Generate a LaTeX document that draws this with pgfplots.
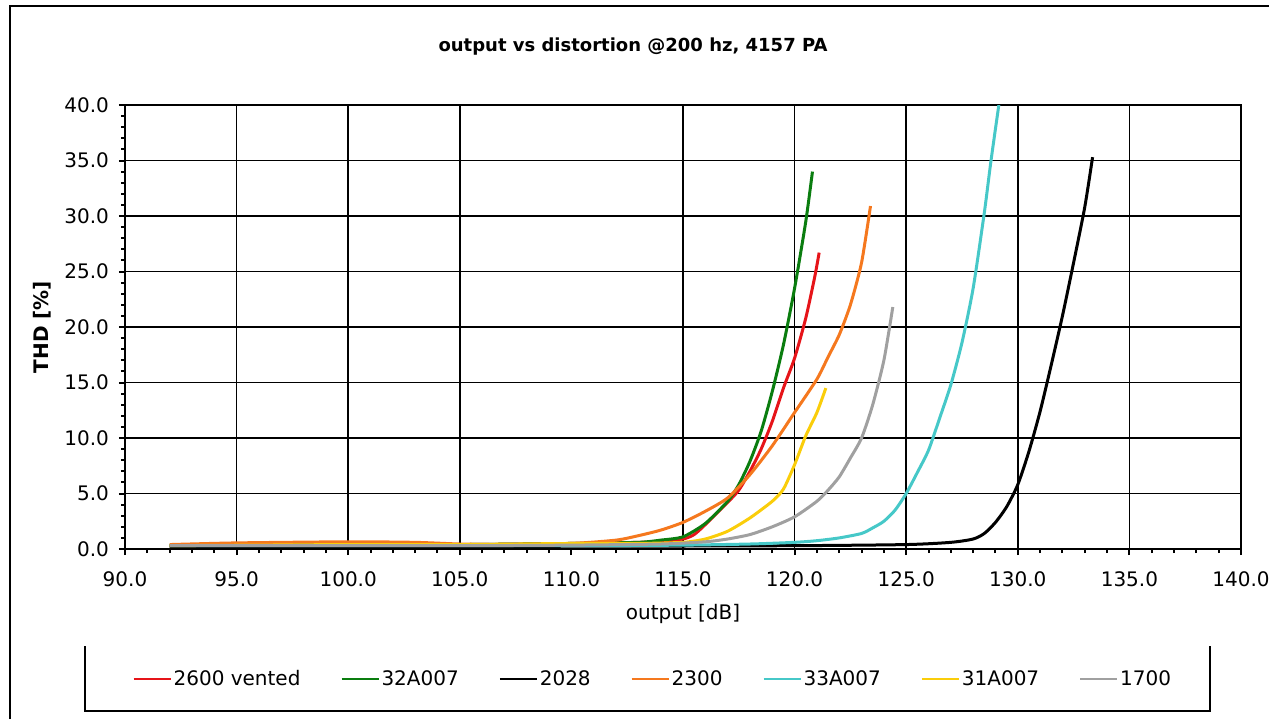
\documentclass[border=0pt]{standalone}
\usepackage{fontspec}
\setmainfont{DejaVu Sans}
\usepackage{pgfplots}
\pgfplotsset{compat=1.18}
\definecolor{cRed}{RGB}{230,20,25}
\definecolor{cGreen}{RGB}{10,125,15}
\definecolor{cOrange}{RGB}{245,120,30}
\definecolor{cCyan}{RGB}{70,200,200}
\definecolor{cYellow}{RGB}{250,205,10}
\definecolor{cGray}{RGB}{160,160,160}
\begin{document}
\begin{tikzpicture}
\useasboundingbox (0,0) rectangle (634.5pt,359.5pt);
\draw[line width=1.2pt] (5pt,0pt) -- (5pt,356.5pt) -- (634.5pt,356.5pt);
\draw[line width=0.9pt] (42.5pt,36.5pt) -- (42.5pt,4pt) -- (605pt,4pt) -- (605pt,36.5pt);
\node[font=\bfseries\fontsize{9}{11}\selectfont] at (316.5pt,336pt) {output vs distortion @200 hz, 4157 PA};
\begin{axis}[
  at={(62.5pt,85pt)}, anchor=south west,
  width=558pt, height=222pt, scale only axis,
  xmin=90, xmax=140, ymin=0, ymax=40,
  xtick={90,95,100,105,115,120,125,130,135,140},
  extra x ticks={110}, extra x tick style={grid=none},
  minor xtick={91,92,93,94,96,97,98,99,101,102,103,104,106,107,108,109,111,112,113,114,116,117,118,119,121,122,123,124,126,127,128,129,131,132,133,134,136,137,138,139},
  ytick={0,5,...,40}, minor y tick num=4,
  xmajorgrids, ymajorgrids,
  major grid style={black, line width=0.75pt},
  axis line style={black, line width=1.2pt},
  tick pos=left, tick align=outside,
  major tick length=3pt, minor tick length=2pt,
  every tick/.style={black, line width=1pt},
  /pgf/number format/.cd, fixed, fixed zerofill, precision=1, assume math mode=true,
  /pgfplots/.cd,
  tick label style={font=\fontsize{10}{12}\selectfont},
  xticklabel style={yshift=-5pt},
  yticklabel style={xshift=-1.5pt},
  xlabel={output [dB]}, ylabel={\bfseries THD [\%]},
  label style={font=\fontsize{10}{12}\selectfont},
  xlabel style={yshift=4.5pt},
  ylabel style={yshift=0pt},
  legend columns=7,
  legend style={at={(0.473,-0.293)}, anchor=center, draw=none, fill=none,
    font=\fontsize{10}{12}\selectfont,
    nodes={inner xsep=1pt},
    /tikz/every even column/.append style={column sep=19pt},
    inner sep=0pt},
  legend image code/.code={\draw[#1, line width=1pt] (0pt,0pt) -- (18.5pt,0pt);},
  every axis plot/.append style={line width=1.5pt, smooth, tension=0.4},
  clip=true,
]
\addplot[cRed] coordinates {(92,0.3)(100,0.4)(105,0.4)(110,0.5)(113,0.6)(114,0.7)(115,0.9)(115.5,1.3)(116,2.2)(116.5,3.2)(117,4.2)(117.5,5.3)(118,7)(118.5,9)(119,11.5)(119.5,14.5)(120,17.2)(120.5,20.8)(120.9,24.5)(121.1,26.7)};
\addlegendentry{2600 vented}
\addplot[cGreen] coordinates {(92,0.3)(100,0.4)(105,0.4)(110,0.5)(113,0.6)(114,0.8)(115,1.1)(116,2.3)(117,4.3)(117.5,5.8)(118,7.9)(118.5,10.6)(119,14.2)(119.5,18.4)(120,23.5)(120.5,29.5)(120.8,34.0)};
\addlegendentry{32A007}
\addplot[black] coordinates {(92,0.2)(110,0.25)(120,0.3)(125,0.4)(127,0.6)(128,0.9)(128.5,1.4)(129,2.4)(129.5,3.8)(130,5.8)(130.5,8.8)(131,12.4)(131.5,16.6)(132,21)(132.5,25.8)(133,30.8)(133.35,35.3)};
\addlegendentry{2028}
\addplot[cOrange] coordinates {(92,0.4)(95,0.55)(100,0.65)(103,0.6)(105,0.45)(107,0.4)(110,0.5)(112,0.8)(113,1.2)(114,1.7)(115,2.4)(116,3.4)(117,4.6)(118,6.7)(119,9.3)(120,12.3)(121,15.3)(121.5,17.3)(122,19.3)(122.5,22)(123,25.8)(123.4,30.9)};
\addlegendentry{2300}
\addplot[cCyan] coordinates {(92,0.3)(110,0.3)(115,0.35)(118,0.45)(120,0.6)(121,0.75)(122,1.0)(123,1.4)(123.5,1.9)(124,2.5)(124.5,3.5)(125,5)(125.5,6.9)(126,8.9)(126.5,11.8)(127,14.8)(127.5,18.6)(128,23.5)(128.5,30.3)(128.8,35)(129.15,40)};
\addlegendentry{33A007}
\addplot[cYellow] coordinates {(92,0.3)(100,0.4)(105,0.4)(110,0.5)(113,0.5)(115,0.6)(116,0.9)(117,1.6)(118,2.8)(119,4.3)(119.5,5.4)(120,7.6)(120.5,10.2)(121,12.3)(121.4,14.5)};
\addlegendentry{31A007}
\addplot[cGray] coordinates {(92,0.3)(105,0.3)(110,0.35)(114,0.45)(116,0.65)(117,0.9)(118,1.3)(119,2)(120,2.9)(121,4.3)(121.5,5.3)(122,6.5)(122.5,8.2)(123,10)(123.5,13)(124,17)(124.4,21.8)};
\addlegendentry{1700}
\end{axis}
\end{tikzpicture}
\end{document}
